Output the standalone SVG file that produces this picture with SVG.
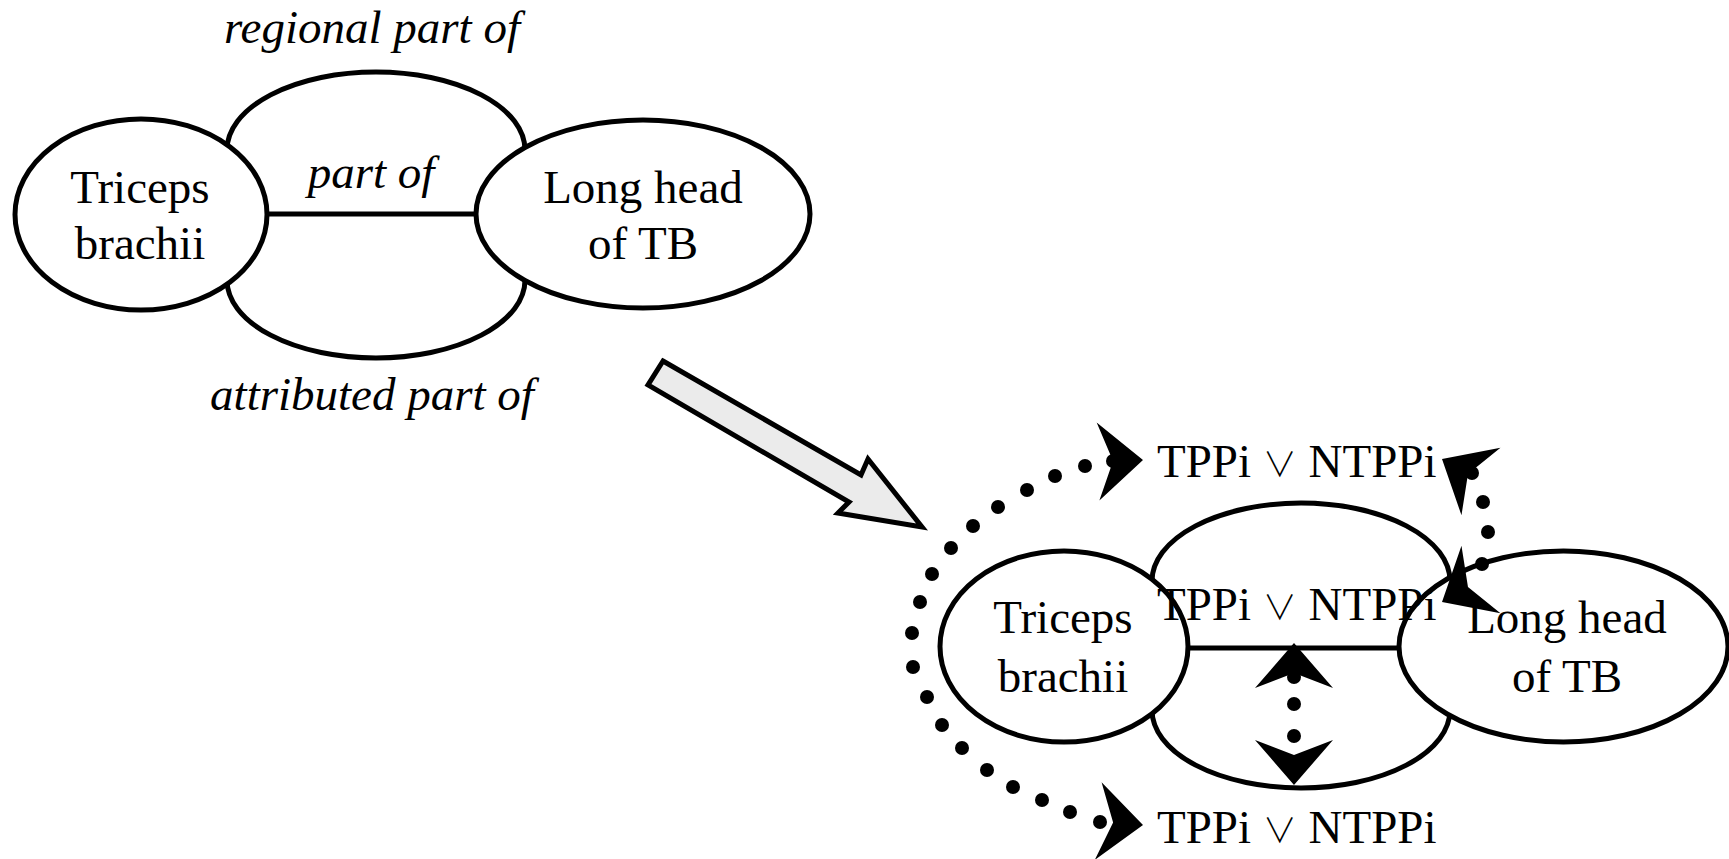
<svg xmlns="http://www.w3.org/2000/svg" xmlns:xlink="http://www.w3.org/1999/xlink" width="1729" height="859" viewBox="0 0 1729 859">
<style>
  .node{fill:#fff;stroke:#000;stroke-width:5}
  .edge{fill:none;stroke:#000;stroke-width:5}
  .lbl{font-family:"Liberation Serif","Times New Roman",serif;font-size:47px;fill:#000}
  .it{font-style:italic}
  .vee{font-family:"Noto Sans CJK JP","DejaVu Sans",sans-serif;font-weight:300;font-size:34px}
  .dot{fill:#000}
  .head{fill:#000}
</style>
<defs>
  <path id="ah" d="M0,0 L-45,-39 L-30,0 L-45,39 Z"/>
</defs>
<rect width="1729" height="859" fill="#fff"/>

<g id="connectors">
  <path class="edge" d="M227,150 A149,78 0 0 1 525,150"/>
  <path class="edge" d="M227,280 A149,78 0 0 0 525,280"/>
  <line class="edge" x1="260" y1="214" x2="480" y2="214"/>
  <path class="edge" d="M1152,581 A149,78 0 0 1 1450,581"/>
  <path class="edge" d="M1152,710 A149,78 0 0 0 1450,710"/>
  <line class="edge" x1="1180" y1="648" x2="1405" y2="648"/>
</g>

<g id="node-tb-left">
  <ellipse class="node" cx="141" cy="214.5" rx="126" ry="95.5"/>
  <text class="lbl" x="140" y="203" text-anchor="middle">Triceps</text>
  <text class="lbl" x="140" y="259" text-anchor="middle">brachii</text>
</g>
<g id="node-lh-left">
  <ellipse class="node" cx="643" cy="214" rx="167" ry="94"/>
  <text class="lbl" x="643" y="203" text-anchor="middle">Long head</text>
  <text class="lbl" x="643" y="259" text-anchor="middle">of TB</text>
</g>
<g id="labels-left">
  <text class="lbl it" x="372" y="43" text-anchor="middle">regional part of</text>
  <text class="lbl it" x="371" y="188" text-anchor="middle">part of</text>
  <text class="lbl it" x="372" y="410" text-anchor="middle">attributed part of</text>
</g>

<g id="transform-arrow">
  <polygon points="663,361 861,475 868,459 922,527 838,513 849,502 648,385" fill="#ebebeb" stroke="#000" stroke-width="5" stroke-linejoin="miter"/>
</g>

<g id="node-tb-right">
  <ellipse class="node" cx="1064" cy="646.5" rx="124" ry="95.5"/>
  <text class="lbl" x="1063" y="633" text-anchor="middle">Triceps</text>
  <text class="lbl" x="1063" y="692" text-anchor="middle">brachii</text>
</g>
<g id="node-lh-right">
  <ellipse class="node" cx="1563.5" cy="646.5" rx="164.5" ry="95.5"/>
  <text class="lbl" x="1567" y="633" text-anchor="middle">Long head</text>
  <text class="lbl" x="1567" y="692" text-anchor="middle">of TB</text>
</g>
<g id="labels-right">
  <text class="lbl" x="1157" y="477">TPPi <tspan class="vee">∨</tspan> NTPPi</text>
  <text class="lbl" x="1157" y="620">TPPi <tspan class="vee">∨</tspan> NTPPi</text>
  <text class="lbl" x="1157" y="843">TPPi <tspan class="vee">∨</tspan> NTPPi</text>
</g>

<g id="dotted-connectors">
  <g class="dot">
    <circle cx="1113" cy="461" r="7"/>
    <circle cx="1085" cy="466" r="7"/>
    <circle cx="1055" cy="476" r="7"/>
    <circle cx="1027" cy="490" r="7"/>
    <circle cx="998" cy="507" r="7"/>
    <circle cx="973" cy="526" r="7"/>
    <circle cx="951" cy="548" r="7"/>
    <circle cx="932" cy="574" r="7"/>
    <circle cx="920" cy="602" r="7"/>
    <circle cx="912" cy="633" r="7"/>
    <circle cx="913" cy="667" r="7"/>
    <circle cx="927" cy="697" r="7"/>
    <circle cx="942" cy="725" r="7"/>
    <circle cx="962" cy="748" r="7"/>
    <circle cx="987" cy="770" r="7"/>
    <circle cx="1013" cy="787" r="7"/>
    <circle cx="1042" cy="800" r="7"/>
    <circle cx="1070" cy="812" r="7"/>
    <circle cx="1100" cy="822" r="7"/>

    <circle cx="1472" cy="473" r="7"/>
    <circle cx="1483" cy="502" r="7"/>
    <circle cx="1488" cy="532" r="7"/>
    <circle cx="1482" cy="564" r="7"/>

    <circle cx="1294" cy="677" r="7"/>
    <circle cx="1294" cy="704" r="7"/>
    <circle cx="1294" cy="736" r="7"/>
  </g>
  <g class="head">
    <use xlink:href="#ah" href="#ah" transform="translate(1143,460) rotate(-2)"/>
    <use xlink:href="#ah" href="#ah" transform="translate(1143,825) rotate(5)"/>
    <use xlink:href="#ah" href="#ah" transform="translate(1442,459) rotate(210)"/>
    <use xlink:href="#ah" href="#ah" transform="translate(1442,602) rotate(150)"/>
    <use xlink:href="#ah" href="#ah" transform="translate(1294,643) rotate(-90)"/>
    <use xlink:href="#ah" href="#ah" transform="translate(1294,785) rotate(90)"/>
  </g>
</g>
</svg>
